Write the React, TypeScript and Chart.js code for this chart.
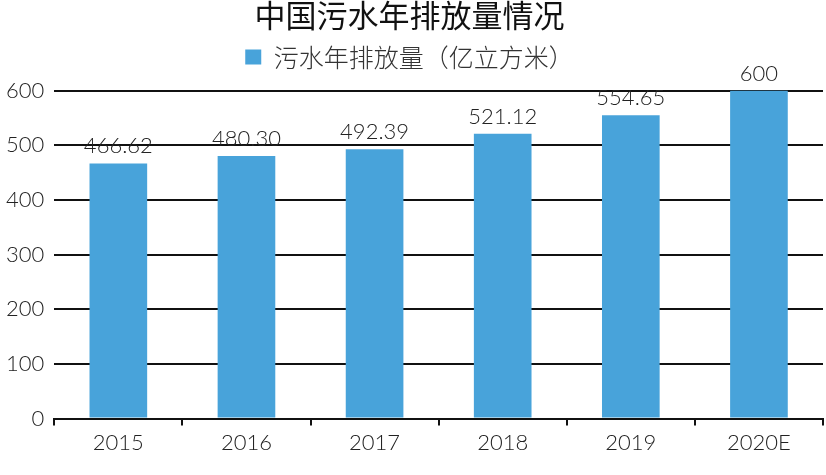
import React, { useEffect, useRef } from "react";
import { Chart, registerables } from "chart.js";

Chart.register(...registerables);

const categories = ["2015", "2016", "2017", "2018", "2019", "2020E"];
const values = [466.62, 480.3, 492.39, 521.12, 554.65, 600];
const valueLabels = ["466.62", "480.30", "492.39", "521.12", "554.65", "600"];
const seriesName = "污水年排放量（亿立方米）";
const titleText = "中国污水年排放量情况";

const LATIN = "Lato, 'Liberation Sans', sans-serif";
const CJK = "'Noto Sans CJK SC', 'Noto Sans', sans-serif";

const dataLabelPlugin = {
  id: "dataLabels",
  afterDatasetsDraw(chart: any) {
    const ctx = chart.ctx;
    const meta = chart.getDatasetMeta(0);
    ctx.save();
    ctx.font = "300 22px " + LATIN;
    ctx.fillStyle = "#222";
    ctx.textAlign = "center";
    ctx.textBaseline = "alphabetic";
    meta.data.forEach((el: any, i: number) => {
      ctx.fillText(valueLabels[i], el.x, el.y - 10);
    });
    ctx.restore();
  },
};

const legendSpacer = {
  id: "legendSpacer",
  beforeInit(chart: any) {
    const legend = chart.legend;
    if (!legend) return;
    const origFit = legend.fit;
    legend.fit = function () {
      origFit.call(this);
      this.height += 11;
    };
  },
};

export default function App() {
  const ref = useRef<HTMLCanvasElement | null>(null);
  useEffect(() => {
    document.body.style.margin = "0";
    if (!ref.current) return;
    const chart = new Chart(ref.current, {
      type: "bar",
      data: {
        labels: categories,
        datasets: [
          {
            label: seriesName,
            data: values,
            backgroundColor: "#48A3DA",
            borderWidth: 0,
            categoryPercentage: 1,
            barPercentage: 0.45,
          },
        ],
      },
      options: {
        animation: false,
        responsive: false,
        maintainAspectRatio: false,
        layout: { padding: { left: -4, right: 3, top: 0, bottom: 15 } },
        plugins: {
          title: {
            display: true,
            text: titleText,
            color: "#111",
            font: { family: CJK, size: 31, weight: "normal", lineHeight: 1.0 },
            padding: { top: 0, bottom: 3.5 },
          },
          legend: {
            display: true,
            labels: {
              color: "#333",
              font: { family: CJK, size: 25, weight: "300" },
              boxWidth: 16,
              boxHeight: 15,
              padding: 10,
            },
          },
          tooltip: { enabled: false },
        },
        scales: {
          x: {
            grid: {
              offset: true,
              drawOnChartArea: false,
              drawTicks: true,
              tickLength: 7,
              color: "#111",
              lineWidth: 2,
            },
            border: { display: true, color: "#111", width: 2 },
            ticks: {
              color: "#222",
              font: { family: LATIN, size: 22, weight: "300" },
              padding: 4,
            },
          },
          y: {
            min: 0,
            max: 600,
            ticks: {
              stepSize: 100,
              color: "#222",
              font: { family: LATIN, size: 22, weight: "300" },
              padding: 10,
            },
            grid: {
              drawTicks: false,
              color: "#111",
              lineWidth: 2,
            },
            border: { display: false },
          },
        },
      },
      plugins: [legendSpacer, dataLabelPlugin],
    });
    return () => chart.destroy();
  }, []);
  return (
    <div style={{ width: 826, height: 475 }}>
      <canvas ref={ref} width={826} height={475} style={{ display: "block" }} />
    </div>
  );
}
